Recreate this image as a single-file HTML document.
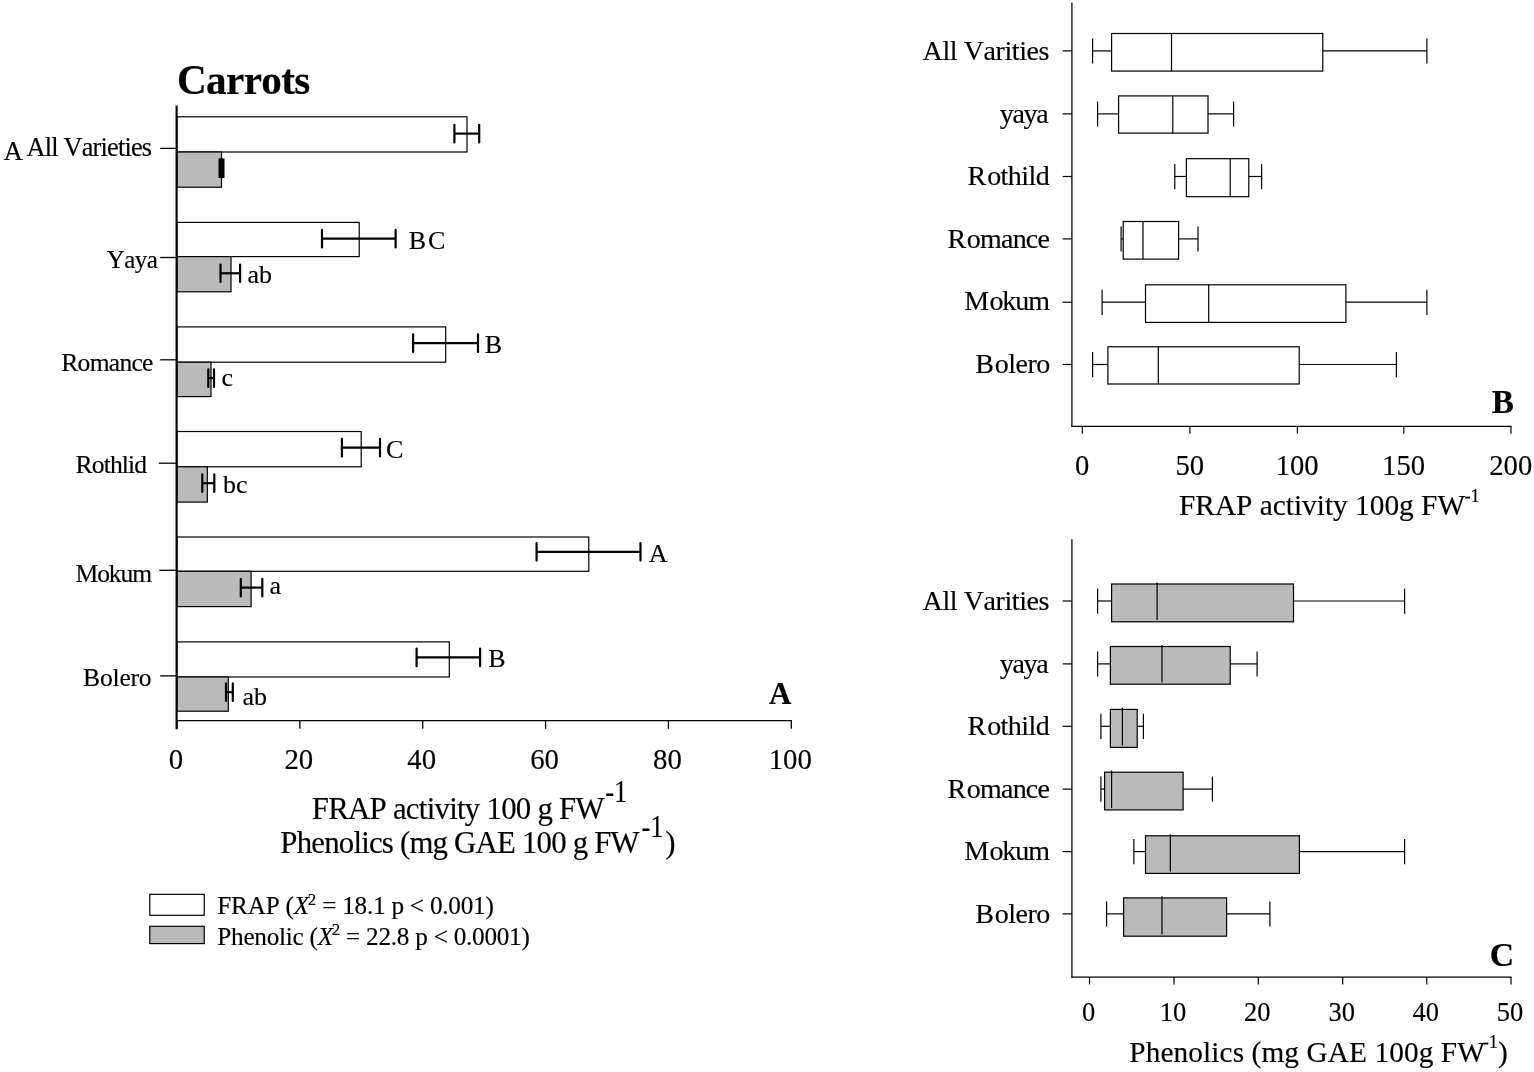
<!DOCTYPE html>
<html lang="en">
<head>
<meta charset="utf-8">
<title>Carrots – FRAP activity and phenolics by variety</title>
<style>
html,body{margin:0;padding:0;background:#fff;}
body{width:1534px;height:1072px;}
svg{display:block;}
svg text{font-family:"Liberation Serif", "DejaVu Serif", serif;fill:#000;stroke:#000;stroke-width:0.16px;font-kerning:none;font-variant-ligatures:none;}
</style>
</head>
<body>
<svg width="1534" height="1072" viewBox="0 0 1534 1072">
<rect x="0" y="0" width="1534" height="1072" fill="#fff"/>
<g id="panelA">
<text x="177.00" y="94.40" font-size="41.2" font-weight="bold" textLength="133.4" lengthAdjust="spacing">Carrots</text>
<rect x="177.00" y="116.80" width="290.00" height="35.20" fill="#fff" stroke="#000" stroke-width="1.2"/>
<rect x="177.00" y="152.00" width="44.50" height="35.20" fill="#bababa" stroke="#000" stroke-width="1.2"/>
<rect x="177.00" y="222.40" width="182.20" height="34.20" fill="#fff" stroke="#000" stroke-width="1.2"/>
<rect x="177.00" y="256.60" width="54.00" height="35.20" fill="#bababa" stroke="#000" stroke-width="1.2"/>
<rect x="177.00" y="326.90" width="268.70" height="35.30" fill="#fff" stroke="#000" stroke-width="1.2"/>
<rect x="177.00" y="362.20" width="34.00" height="34.40" fill="#bababa" stroke="#000" stroke-width="1.2"/>
<rect x="177.00" y="431.50" width="184.20" height="35.30" fill="#fff" stroke="#000" stroke-width="1.2"/>
<rect x="177.00" y="466.80" width="30.30" height="35.30" fill="#bababa" stroke="#000" stroke-width="1.2"/>
<rect x="177.00" y="537.00" width="411.80" height="34.30" fill="#fff" stroke="#000" stroke-width="1.2"/>
<rect x="177.00" y="571.30" width="74.10" height="35.30" fill="#bababa" stroke="#000" stroke-width="1.2"/>
<rect x="177.00" y="641.90" width="272.30" height="35.10" fill="#fff" stroke="#000" stroke-width="1.2"/>
<rect x="177.00" y="677.00" width="51.30" height="34.20" fill="#bababa" stroke="#000" stroke-width="1.2"/>
<line x1="454.40" y1="133.60" x2="479.20" y2="133.60" stroke="#000" stroke-width="2.2"/>
<path d="M454.40 124.80V142.40M479.20 124.80V142.40" stroke="#000" stroke-width="2.2" stroke-linecap="round" fill="none"/>
<rect x="218.50" y="158.40" width="6.00" height="19.6" fill="#000"/>
<line x1="160.20" y1="148.40" x2="177.00" y2="148.40" stroke="#000" stroke-width="1.3"/>
<text x="26.50" y="156.20" font-size="26.3" textLength="125.6" lengthAdjust="spacing">All Varieties</text>
<line x1="322.00" y1="238.70" x2="395.60" y2="238.70" stroke="#000" stroke-width="2.2"/>
<path d="M322.00 229.90V247.50M395.60 229.90V247.50" stroke="#000" stroke-width="2.2" stroke-linecap="round" fill="none"/>
<line x1="220.50" y1="273.30" x2="240.10" y2="273.30" stroke="#000" stroke-width="2.2"/>
<path d="M220.50 264.50V282.10M240.10 264.50V282.10" stroke="#000" stroke-width="2.2" stroke-linecap="round" fill="none"/>
<line x1="160.20" y1="257.50" x2="177.00" y2="257.50" stroke="#000" stroke-width="1.3"/>
<text x="106.80" y="267.70" font-size="25.0" textLength="51.1" lengthAdjust="spacing">Yaya</text>
<text x="408.70" y="248.70" font-size="26" textLength="36.6" lengthAdjust="spacing">BC</text>
<text x="247.40" y="283.30" font-size="26">ab</text>
<line x1="413.10" y1="343.10" x2="478.00" y2="343.10" stroke="#000" stroke-width="2.2"/>
<path d="M413.10 334.30V351.90M478.00 334.30V351.90" stroke="#000" stroke-width="2.2" stroke-linecap="round" fill="none"/>
<line x1="208.30" y1="378.10" x2="214.00" y2="378.10" stroke="#000" stroke-width="2.2"/>
<path d="M208.30 369.30V386.90M214.00 369.30V386.90" stroke="#000" stroke-width="2.2" stroke-linecap="round" fill="none"/>
<line x1="160.20" y1="359.80" x2="177.00" y2="359.80" stroke="#000" stroke-width="1.3"/>
<text x="61.30" y="371.30" font-size="25.6" textLength="92.1" lengthAdjust="spacing">Romance</text>
<text x="484.80" y="352.80" font-size="26">B</text>
<text x="221.60" y="386.40" font-size="26">c</text>
<line x1="341.90" y1="447.70" x2="380.00" y2="447.70" stroke="#000" stroke-width="2.2"/>
<path d="M341.90 438.90V456.50M380.00 438.90V456.50" stroke="#000" stroke-width="2.2" stroke-linecap="round" fill="none"/>
<line x1="202.30" y1="483.20" x2="214.30" y2="483.20" stroke="#000" stroke-width="2.2"/>
<path d="M202.30 474.40V492.00M214.30 474.40V492.00" stroke="#000" stroke-width="2.2" stroke-linecap="round" fill="none"/>
<line x1="158.80" y1="463.20" x2="177.00" y2="463.20" stroke="#000" stroke-width="1.3"/>
<text x="75.60" y="473.20" font-size="25.6" textLength="71.5" lengthAdjust="spacing">Rothlid</text>
<text x="386.10" y="458.00" font-size="26">C</text>
<text x="223.10" y="493.20" font-size="26">bc</text>
<line x1="536.60" y1="551.80" x2="640.50" y2="551.80" stroke="#000" stroke-width="2.2"/>
<path d="M536.60 543.00V560.60M640.50 543.00V560.60" stroke="#000" stroke-width="2.2" stroke-linecap="round" fill="none"/>
<line x1="240.80" y1="587.60" x2="262.30" y2="587.60" stroke="#000" stroke-width="2.2"/>
<path d="M240.80 578.80V596.40M262.30 578.80V596.40" stroke="#000" stroke-width="2.2" stroke-linecap="round" fill="none"/>
<line x1="159.30" y1="570.30" x2="177.00" y2="570.30" stroke="#000" stroke-width="1.3"/>
<text x="75.60" y="581.60" font-size="25.6" textLength="76.5" lengthAdjust="spacing">Mokum</text>
<text x="648.70" y="562.20" font-size="26">A</text>
<text x="269.40" y="593.80" font-size="26">a</text>
<line x1="416.60" y1="657.40" x2="480.10" y2="657.40" stroke="#000" stroke-width="2.2"/>
<path d="M416.60 648.60V666.20M480.10 648.60V666.20" stroke="#000" stroke-width="2.2" stroke-linecap="round" fill="none"/>
<line x1="226.00" y1="692.20" x2="232.80" y2="692.20" stroke="#000" stroke-width="2.2"/>
<path d="M226.00 683.40V701.00M232.80 683.40V701.00" stroke="#000" stroke-width="2.2" stroke-linecap="round" fill="none"/>
<line x1="160.20" y1="675.90" x2="177.00" y2="675.90" stroke="#000" stroke-width="1.3"/>
<text x="83.10" y="686.20" font-size="25.6" textLength="68.5" lengthAdjust="spacing">Bolero</text>
<text x="488.20" y="666.90" font-size="26">B</text>
<text x="242.40" y="704.50" font-size="26">ab</text>
<text x="3.40" y="159.80" font-size="27">A</text>
<line x1="176.60" y1="105.60" x2="176.60" y2="729.20" stroke="#000" stroke-width="2.1"/>
<line x1="176.00" y1="720.60" x2="791.90" y2="720.60" stroke="#000" stroke-width="1.3"/>
<line x1="177.00" y1="720.60" x2="177.00" y2="728.80" stroke="#000" stroke-width="1.3"/>
<text x="168.79" y="769.45" font-size="30.2" textLength="14.42" lengthAdjust="spacingAndGlyphs">0</text>
<line x1="299.86" y1="720.60" x2="299.86" y2="728.80" stroke="#000" stroke-width="1.3"/>
<text x="284.44" y="769.45" font-size="30.2" textLength="28.84" lengthAdjust="spacingAndGlyphs">20</text>
<line x1="422.72" y1="720.60" x2="422.72" y2="728.80" stroke="#000" stroke-width="1.3"/>
<text x="407.30" y="769.45" font-size="30.2" textLength="28.84" lengthAdjust="spacingAndGlyphs">40</text>
<line x1="545.58" y1="720.60" x2="545.58" y2="728.80" stroke="#000" stroke-width="1.3"/>
<text x="530.16" y="769.45" font-size="30.2" textLength="28.84" lengthAdjust="spacingAndGlyphs">60</text>
<line x1="668.44" y1="720.60" x2="668.44" y2="728.80" stroke="#000" stroke-width="1.3"/>
<text x="653.02" y="769.45" font-size="30.2" textLength="28.84" lengthAdjust="spacingAndGlyphs">80</text>
<line x1="791.30" y1="720.60" x2="791.30" y2="728.80" stroke="#000" stroke-width="1.3"/>
<text x="768.67" y="769.45" font-size="30.2" textLength="43.26" lengthAdjust="spacingAndGlyphs">100</text>
<text x="769.00" y="703.90" font-size="31" font-weight="bold">A</text>
<text x="311.80" y="818.80" font-size="30.8" textLength="292.8" lengthAdjust="spacing">FRAP activity 100 g FW</text>
<text x="605.20" y="801.90" font-size="30.5" textLength="22.10" lengthAdjust="spacingAndGlyphs">-1</text>
<text x="280.30" y="853.40" font-size="30.8" textLength="359.4" lengthAdjust="spacing">Phenolics (mg GAE 100 g FW</text>
<text x="641.40" y="836.80" font-size="30.5" textLength="22.10" lengthAdjust="spacingAndGlyphs">-1</text>
<text x="665.30" y="853.40" font-size="30.8">)</text>
<rect x="149.80" y="894.30" width="54.40" height="21.00" fill="#fff" stroke="#000" stroke-width="1.2"/>
<rect x="149.80" y="926.30" width="54.40" height="17.30" fill="#bababa" stroke="#000" stroke-width="1.2"/>
<text x="217.30" y="914.00" font-size="25.2" textLength="276.5" lengthAdjust="spacing">FRAP (<tspan font-style="italic">X</tspan><tspan dy="-9.5" dx="-1" font-size="17">2</tspan><tspan dy="9.5"> = 18.1 p &lt; 0.001)</tspan></text>
<text x="217.30" y="944.50" font-size="25.2" textLength="312.5" lengthAdjust="spacing">Phenolic (<tspan font-style="italic">X</tspan><tspan dy="-9.5" dx="-1" font-size="17">2</tspan><tspan dy="9.5"> = 22.8 p &lt; 0.0001)</tspan></text>
</g>
<g id="panelB">
<line x1="1092.60" y1="50.90" x2="1111.60" y2="50.90" stroke="#000" stroke-width="1.2"/>
<line x1="1322.80" y1="50.90" x2="1426.90" y2="50.90" stroke="#000" stroke-width="1.2"/>
<line x1="1092.60" y1="38.40" x2="1092.60" y2="63.60" stroke="#000" stroke-width="1.2"/>
<line x1="1426.90" y1="38.40" x2="1426.90" y2="63.60" stroke="#000" stroke-width="1.2"/>
<rect x="1111.60" y="33.50" width="211.20" height="37.60" fill="#fff" stroke="#000" stroke-width="1.2"/>
<line x1="1171.50" y1="33.50" x2="1171.50" y2="71.10" stroke="#000" stroke-width="1.2"/>
<line x1="1062.70" y1="50.90" x2="1071.90" y2="50.90" stroke="#000" stroke-width="1.2"/>
<text x="922.60" y="59.80" font-size="28" textLength="126.8" lengthAdjust="spacing">All Varities</text>
<line x1="1097.60" y1="113.90" x2="1118.60" y2="113.90" stroke="#000" stroke-width="1.2"/>
<line x1="1208.00" y1="113.90" x2="1233.60" y2="113.90" stroke="#000" stroke-width="1.2"/>
<line x1="1097.60" y1="101.40" x2="1097.60" y2="126.60" stroke="#000" stroke-width="1.2"/>
<line x1="1233.60" y1="101.40" x2="1233.60" y2="126.60" stroke="#000" stroke-width="1.2"/>
<rect x="1118.60" y="95.90" width="89.40" height="37.20" fill="#fff" stroke="#000" stroke-width="1.2"/>
<line x1="1172.80" y1="95.90" x2="1172.80" y2="133.10" stroke="#000" stroke-width="1.2"/>
<line x1="1062.70" y1="113.90" x2="1071.90" y2="113.90" stroke="#000" stroke-width="1.2"/>
<text x="999.70" y="122.50" font-size="28" textLength="48.9" lengthAdjust="spacing">yaya</text>
<line x1="1174.80" y1="176.50" x2="1186.40" y2="176.50" stroke="#000" stroke-width="1.2"/>
<line x1="1248.80" y1="176.50" x2="1261.60" y2="176.50" stroke="#000" stroke-width="1.2"/>
<line x1="1174.80" y1="164.00" x2="1174.80" y2="189.20" stroke="#000" stroke-width="1.2"/>
<line x1="1261.60" y1="164.00" x2="1261.60" y2="189.20" stroke="#000" stroke-width="1.2"/>
<rect x="1186.40" y="158.70" width="62.40" height="38.00" fill="#fff" stroke="#000" stroke-width="1.2"/>
<line x1="1230.20" y1="158.70" x2="1230.20" y2="196.70" stroke="#000" stroke-width="1.2"/>
<line x1="1062.70" y1="176.50" x2="1071.90" y2="176.50" stroke="#000" stroke-width="1.2"/>
<text x="967.60" y="185.30" font-size="28" textLength="82.1" lengthAdjust="spacing">R<tspan dx="1.4">othild</tspan></text>
<line x1="1121.10" y1="238.90" x2="1123.20" y2="238.90" stroke="#000" stroke-width="1.2"/>
<line x1="1178.60" y1="238.90" x2="1198.00" y2="238.90" stroke="#000" stroke-width="1.2"/>
<line x1="1121.10" y1="226.40" x2="1121.10" y2="251.60" stroke="#000" stroke-width="1.2"/>
<line x1="1198.00" y1="226.40" x2="1198.00" y2="251.60" stroke="#000" stroke-width="1.2"/>
<rect x="1123.20" y="221.50" width="55.40" height="37.60" fill="#fff" stroke="#000" stroke-width="1.2"/>
<line x1="1143.00" y1="221.50" x2="1143.00" y2="259.10" stroke="#000" stroke-width="1.2"/>
<line x1="1062.70" y1="238.90" x2="1071.90" y2="238.90" stroke="#000" stroke-width="1.2"/>
<text x="947.60" y="247.80" font-size="28" textLength="102.3" lengthAdjust="spacing">R<tspan dx="1.4">omance</tspan></text>
<line x1="1102.10" y1="302.20" x2="1145.50" y2="302.20" stroke="#000" stroke-width="1.2"/>
<line x1="1345.90" y1="302.20" x2="1426.90" y2="302.20" stroke="#000" stroke-width="1.2"/>
<line x1="1102.10" y1="289.70" x2="1102.10" y2="314.90" stroke="#000" stroke-width="1.2"/>
<line x1="1426.90" y1="289.70" x2="1426.90" y2="314.90" stroke="#000" stroke-width="1.2"/>
<rect x="1145.50" y="284.80" width="200.40" height="37.60" fill="#fff" stroke="#000" stroke-width="1.2"/>
<line x1="1208.70" y1="284.80" x2="1208.70" y2="322.40" stroke="#000" stroke-width="1.2"/>
<line x1="1062.70" y1="302.20" x2="1071.90" y2="302.20" stroke="#000" stroke-width="1.2"/>
<text x="964.20" y="310.00" font-size="28" textLength="85.8" lengthAdjust="spacing">M<tspan dx="1.4">okum</tspan></text>
<line x1="1092.60" y1="364.50" x2="1107.90" y2="364.50" stroke="#000" stroke-width="1.2"/>
<line x1="1299.20" y1="364.50" x2="1396.40" y2="364.50" stroke="#000" stroke-width="1.2"/>
<line x1="1092.60" y1="352.00" x2="1092.60" y2="377.20" stroke="#000" stroke-width="1.2"/>
<line x1="1396.40" y1="352.00" x2="1396.40" y2="377.20" stroke="#000" stroke-width="1.2"/>
<rect x="1107.90" y="346.80" width="191.30" height="37.20" fill="#fff" stroke="#000" stroke-width="1.2"/>
<line x1="1158.30" y1="346.80" x2="1158.30" y2="384.00" stroke="#000" stroke-width="1.2"/>
<line x1="1062.70" y1="364.50" x2="1071.90" y2="364.50" stroke="#000" stroke-width="1.2"/>
<text x="975.30" y="373.10" font-size="28" textLength="74.9" lengthAdjust="spacing">B<tspan dx="1.4">olero</tspan></text>
<line x1="1071.90" y1="2.50" x2="1071.90" y2="427.00" stroke="#000" stroke-width="1.25"/>
<line x1="1071.30" y1="426.40" x2="1511.60" y2="426.40" stroke="#000" stroke-width="1.25"/>
<line x1="1082.30" y1="426.40" x2="1082.30" y2="433.80" stroke="#000" stroke-width="1.2"/>
<text x="1074.94" y="474.50" font-size="30.0" textLength="14.32" lengthAdjust="spacingAndGlyphs">0</text>
<line x1="1189.90" y1="426.40" x2="1189.90" y2="433.80" stroke="#000" stroke-width="1.2"/>
<text x="1175.38" y="474.50" font-size="30.0" textLength="28.65" lengthAdjust="spacingAndGlyphs">50</text>
<line x1="1297.40" y1="426.40" x2="1297.40" y2="433.80" stroke="#000" stroke-width="1.2"/>
<text x="1275.71" y="474.50" font-size="30.0" textLength="42.98" lengthAdjust="spacingAndGlyphs">100</text>
<line x1="1403.80" y1="426.40" x2="1403.80" y2="433.80" stroke="#000" stroke-width="1.2"/>
<text x="1382.11" y="474.50" font-size="30.0" textLength="42.98" lengthAdjust="spacingAndGlyphs">150</text>
<line x1="1511.00" y1="426.40" x2="1511.00" y2="433.80" stroke="#000" stroke-width="1.2"/>
<text x="1489.31" y="474.50" font-size="30.0" textLength="42.98" lengthAdjust="spacingAndGlyphs">200</text>
<text x="1179.00" y="515.00" font-size="29.35">FRAP activity 100g FW</text>
<text x="1464.40" y="502.00" font-size="18.5">-1</text>
<text x="1491.70" y="413.20" font-size="33.2" font-weight="bold">B</text>
</g>
<g id="panelC">
<line x1="1097.60" y1="601.00" x2="1111.60" y2="601.00" stroke="#000" stroke-width="1.2"/>
<line x1="1293.50" y1="601.00" x2="1404.60" y2="601.00" stroke="#000" stroke-width="1.2"/>
<line x1="1097.60" y1="588.50" x2="1097.60" y2="613.70" stroke="#000" stroke-width="1.2"/>
<line x1="1404.60" y1="588.50" x2="1404.60" y2="613.70" stroke="#000" stroke-width="1.2"/>
<rect x="1111.60" y="584.00" width="181.90" height="37.80" fill="#bababa" stroke="#000" stroke-width="1.2"/>
<line x1="1157.10" y1="582.40" x2="1157.10" y2="620.00" stroke="#000" stroke-width="1.2"/>
<line x1="1062.70" y1="601.00" x2="1071.90" y2="601.00" stroke="#000" stroke-width="1.2"/>
<text x="922.60" y="610.00" font-size="28" textLength="126.8" lengthAdjust="spacing">All Varities</text>
<line x1="1097.60" y1="663.90" x2="1110.40" y2="663.90" stroke="#000" stroke-width="1.2"/>
<line x1="1230.20" y1="663.90" x2="1257.10" y2="663.90" stroke="#000" stroke-width="1.2"/>
<line x1="1097.60" y1="651.40" x2="1097.60" y2="676.60" stroke="#000" stroke-width="1.2"/>
<line x1="1257.10" y1="651.40" x2="1257.10" y2="676.60" stroke="#000" stroke-width="1.2"/>
<rect x="1110.40" y="646.50" width="119.80" height="37.70" fill="#bababa" stroke="#000" stroke-width="1.2"/>
<line x1="1162.00" y1="644.90" x2="1162.00" y2="682.40" stroke="#000" stroke-width="1.2"/>
<line x1="1062.70" y1="663.90" x2="1071.90" y2="663.90" stroke="#000" stroke-width="1.2"/>
<text x="999.70" y="672.60" font-size="28" textLength="48.9" lengthAdjust="spacing">yaya</text>
<line x1="1100.90" y1="726.30" x2="1110.40" y2="726.30" stroke="#000" stroke-width="1.2"/>
<line x1="1137.20" y1="726.30" x2="1143.40" y2="726.30" stroke="#000" stroke-width="1.2"/>
<line x1="1100.90" y1="713.80" x2="1100.90" y2="739.00" stroke="#000" stroke-width="1.2"/>
<line x1="1143.40" y1="713.80" x2="1143.40" y2="739.00" stroke="#000" stroke-width="1.2"/>
<rect x="1110.40" y="709.40" width="26.80" height="38.00" fill="#bababa" stroke="#000" stroke-width="1.2"/>
<line x1="1122.40" y1="707.80" x2="1122.40" y2="745.60" stroke="#000" stroke-width="1.2"/>
<line x1="1062.70" y1="726.30" x2="1071.90" y2="726.30" stroke="#000" stroke-width="1.2"/>
<text x="967.60" y="735.30" font-size="28" textLength="82.1" lengthAdjust="spacing">R<tspan dx="1.4">othild</tspan></text>
<line x1="1100.90" y1="789.10" x2="1104.60" y2="789.10" stroke="#000" stroke-width="1.2"/>
<line x1="1183.10" y1="789.10" x2="1212.40" y2="789.10" stroke="#000" stroke-width="1.2"/>
<line x1="1100.90" y1="776.60" x2="1100.90" y2="801.80" stroke="#000" stroke-width="1.2"/>
<line x1="1212.40" y1="776.60" x2="1212.40" y2="801.80" stroke="#000" stroke-width="1.2"/>
<rect x="1104.60" y="772.20" width="78.50" height="37.70" fill="#bababa" stroke="#000" stroke-width="1.2"/>
<line x1="1111.60" y1="770.60" x2="1111.60" y2="808.10" stroke="#000" stroke-width="1.2"/>
<line x1="1062.70" y1="789.10" x2="1071.90" y2="789.10" stroke="#000" stroke-width="1.2"/>
<text x="947.60" y="798.00" font-size="28" textLength="102.3" lengthAdjust="spacing">R<tspan dx="1.4">omance</tspan></text>
<line x1="1133.90" y1="851.60" x2="1145.50" y2="851.60" stroke="#000" stroke-width="1.2"/>
<line x1="1299.40" y1="851.60" x2="1404.60" y2="851.60" stroke="#000" stroke-width="1.2"/>
<line x1="1133.90" y1="839.10" x2="1133.90" y2="864.30" stroke="#000" stroke-width="1.2"/>
<line x1="1404.60" y1="839.10" x2="1404.60" y2="864.30" stroke="#000" stroke-width="1.2"/>
<rect x="1145.50" y="835.80" width="153.90" height="37.60" fill="#bababa" stroke="#000" stroke-width="1.2"/>
<line x1="1170.30" y1="834.20" x2="1170.30" y2="871.60" stroke="#000" stroke-width="1.2"/>
<line x1="1062.70" y1="851.60" x2="1071.90" y2="851.60" stroke="#000" stroke-width="1.2"/>
<text x="964.20" y="859.80" font-size="28" textLength="85.8" lengthAdjust="spacing">M<tspan dx="1.4">okum</tspan></text>
<line x1="1106.60" y1="913.90" x2="1123.60" y2="913.90" stroke="#000" stroke-width="1.2"/>
<line x1="1226.60" y1="913.90" x2="1269.90" y2="913.90" stroke="#000" stroke-width="1.2"/>
<line x1="1106.60" y1="901.40" x2="1106.60" y2="926.60" stroke="#000" stroke-width="1.2"/>
<line x1="1269.90" y1="901.40" x2="1269.90" y2="926.60" stroke="#000" stroke-width="1.2"/>
<rect x="1123.60" y="897.90" width="103.00" height="38.30" fill="#bababa" stroke="#000" stroke-width="1.2"/>
<line x1="1162.00" y1="896.30" x2="1162.00" y2="934.40" stroke="#000" stroke-width="1.2"/>
<line x1="1062.70" y1="913.90" x2="1071.90" y2="913.90" stroke="#000" stroke-width="1.2"/>
<text x="975.30" y="922.80" font-size="28" textLength="74.9" lengthAdjust="spacing">B<tspan dx="1.4">olero</tspan></text>
<line x1="1071.90" y1="539.30" x2="1071.90" y2="977.60" stroke="#000" stroke-width="1.25"/>
<line x1="1071.30" y1="977.00" x2="1511.60" y2="977.00" stroke="#000" stroke-width="1.25"/>
<line x1="1089.50" y1="977.00" x2="1089.50" y2="984.40" stroke="#000" stroke-width="1.2"/>
<text x="1081.88" y="1020.50" font-size="26.5" textLength="13.25" lengthAdjust="spacingAndGlyphs">0</text>
<line x1="1174.00" y1="977.00" x2="1174.00" y2="984.40" stroke="#000" stroke-width="1.2"/>
<text x="1159.75" y="1020.50" font-size="26.5" textLength="26.50" lengthAdjust="spacingAndGlyphs">10</text>
<line x1="1258.30" y1="977.00" x2="1258.30" y2="984.40" stroke="#000" stroke-width="1.2"/>
<text x="1244.05" y="1020.50" font-size="26.5" textLength="26.50" lengthAdjust="spacingAndGlyphs">20</text>
<line x1="1342.70" y1="977.00" x2="1342.70" y2="984.40" stroke="#000" stroke-width="1.2"/>
<text x="1328.45" y="1020.50" font-size="26.5" textLength="26.50" lengthAdjust="spacingAndGlyphs">30</text>
<line x1="1426.80" y1="977.00" x2="1426.80" y2="984.40" stroke="#000" stroke-width="1.2"/>
<text x="1412.55" y="1020.50" font-size="26.5" textLength="26.50" lengthAdjust="spacingAndGlyphs">40</text>
<line x1="1511.00" y1="977.00" x2="1511.00" y2="984.40" stroke="#000" stroke-width="1.2"/>
<text x="1496.75" y="1020.50" font-size="26.5" textLength="26.50" lengthAdjust="spacingAndGlyphs">50</text>
<text x="1129.30" y="1062.20" font-size="29.3" textLength="355.6" lengthAdjust="spacing">Phenolics (mg GAE 100g FW</text>
<text x="1482.70" y="1047.90" font-size="18.5">-1</text>
<text x="1498.00" y="1062.20" font-size="29.3">)</text>
<text x="1489.80" y="966.00" font-size="33.8" font-weight="bold">C</text>
</g>
</svg>
</body>
</html>
